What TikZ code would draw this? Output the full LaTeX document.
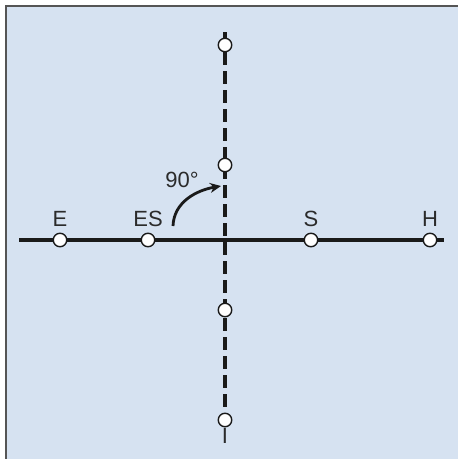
\documentclass[tikz,border=0pt]{standalone}
\usepackage{fontspec}
\setmainfont{Liberation Sans}
\usetikzlibrary{arrows.meta,backgrounds}
\definecolor{panelbg}{HTML}{D6E2F1}
\definecolor{framex}{HTML}{555555}
\definecolor{inkx}{HTML}{1A1A1A}
\definecolor{textx}{HTML}{2B2B2B}
\tikzset{
  pt/.style={circle,draw=inkx,line width=1.4pt,fill=white,minimum size=13.5pt,inner sep=0pt},
  axis/.style={inkx,line width=3.3pt},
  lbl/.style={text=textx,font=\fontsize{22}{26}\selectfont,inner sep=0pt}
}

\begin{document}
\begin{tikzpicture}[x=1pt,y=-1pt]
\useasboundingbox (0,0) rectangle (458,459);
% points
\node[pt] (v1) at (225,45) {};
\node[pt] (v2) at (225,165) {};
\node[pt] (v3) at (225,310) {};
\node[pt] (v4) at (225,420) {};
\node[pt,label={[lbl,label distance=6pt]above:E}] (e) at (60,240) {};
\node[pt,label={[lbl,label distance=6pt]above:ES}] (es) at (148,240) {};
\node[pt,label={[lbl,label distance=6pt]above:S}] (s) at (311,240) {};
\node[pt,label={[lbl,label distance=6pt]above:H}] (h) at (430,240) {};
\node[lbl,below=1pt] (i) at (v4.south) {I};
% axes
\coordinate (hl) at (19,240);
\coordinate (hr) at (444,240);
\coordinate (vt) at (225,32);
\begin{scope}[on background layer]
\fill[panelbg] (6,6) rectangle (458,459);
\draw[framex,line width=1.5pt] (6,459)--(6,6)--(458,6);
\draw[axis] (hl)--(hr);
\draw[axis] (vt)--(v1.north);
\draw[axis,dash pattern=on 12.5pt off 6.5pt] (v1.south)--(v4.north);
\end{scope}
% rotation
\coordinate (a0) at (173,226);
\coordinate (a1) at (221,186);
\draw[inkx,line width=2.8pt,-{Stealth[length=11pt,width=10pt]}] (a0) to[out=88,in=190] (a1);
\node[lbl] (ang) at (182,180) {90°};
\end{tikzpicture}
\end{document}
